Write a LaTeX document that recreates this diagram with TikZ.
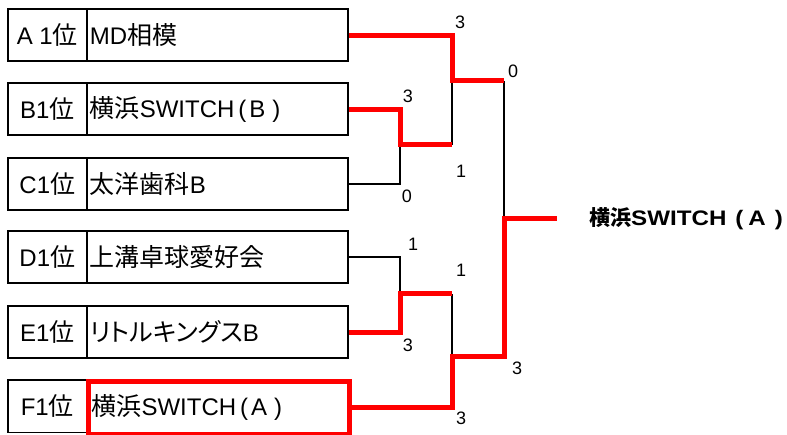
\documentclass[tikz,border=0pt]{standalone}
\usepackage{fontspec}
\newfontfamily\jp{Noto Sans CJK JP}
\newfontfamily\jpp[RawFeature=+palt]{Noto Sans CJK JP}
\newfontfamily\lab{Liberation Sans}
\newfontfamily\latw[FakeStretch=1.15]{Liberation Sans}
\newcommand\lt[1]{{\lab\fontsize{24}{25}\selectfont #1}}
\newcommand\ltw[1]{{\latw\bfseries\fontsize{21}{22}\selectfont #1}}
\begin{document}
\begin{tikzpicture}[x=1pt,y=-1pt,
  cell/.style={draw=black, line width=1.6pt, minimum height=52.5pt, inner sep=0pt, anchor=north west,
    font=\jp\fontsize{25}{26}\selectfont},
  rank/.style={cell, minimum width=79pt, align=center},
  team/.style={cell, minimum width=261pt, text width=255pt, align=left},
  wire/.style={line width=1.3pt, black},
  win/.style={line width=5pt, red},
  score/.style={font=\lab\fontsize{18}{18}\selectfont, inner sep=0pt}]
\useasboundingbox (0,0) rectangle (787,435);
% boxes
\node[rank] (rA) at (7,8)   {\lt{A 1}位};
\node[team] (nA) at (86,8)  {\lt{MD}相模};
\node[rank] (rB) at (7,82)  {\lt{B1}位};
\node[team] (nB) at (86,82) {横浜\lt{SWITCH\kern4pt(\kern3pt B\kern7pt)}};
\node[rank] (rC) at (7,157) {\lt{C1}位};
\node[team] (nC) at (86,157) {太洋歯科\lt{B}};
\node[rank] (rD) at (7,230) {\lt{D1}位};
\node[team] (nD) at (86,230) {上溝卓球愛好会};
\node[rank] (rE) at (7,305) {\lt{E1}位};
\node[team] (nE) at (86,305) {{\jpp リトルキングス}\lt{B}};
\node[rank] (rF) at (7,379) {\lt{F1}位};
\node[team, draw=red, line width=5pt] (nF) at (86,379) {横浜\lt{SWITCH\kern4pt(\kern3pt A\kern7pt)}};
% junction coordinates
\coordinate (j1) at (400,145);
\coordinate (j2) at (400,294);
\coordinate (s1) at (452,81);
\coordinate (s1b) at (452,145);
\coordinate (s2) at (452,294);
\coordinate (s2b) at (452,357);
\coordinate (f1) at (504,81);
\coordinate (f2) at (504,219);
\coordinate (fin) at (557,219);
% black (lost) lines
\draw[wire] (nC.east) -| (j1);
\draw[wire] (nD.east) -| (j2);
\draw[wire] (s1) -- (s1b);
\draw[wire] (s2b) -- (s2);
\draw[wire] (f1) -- (f2);
% red (won) lines
\draw[win] (nA.east) -| (s1) -- (f1);
\draw[win] (nB.east) -| (j1) -- (s1b);
\draw[win] (nE.east) -| (j2) -- (s2);
\draw[win] (nF.east) -| (s2b) -| (f2) -- (fin);
% scores
\node[score] (a3) at (460,22) {3};
\node[score] (b3) at (408,96) {3};
\node[score] (c0) at (407,196) {0};
\node[score] (ab1) at (461,171) {1};
\node[score] (f0) at (513,71) {0};
\node[score] (d1) at (413,244) {1};
\node[score] (e1) at (461,270) {1};
\node[score] (e3) at (408,345) {3};
\node[score] (f3) at (461,418) {3};
\node[score] (fa3) at (517,368) {3};
% champion
\node[anchor=west, inner sep=0pt, font=\jp\bfseries\fontsize{21}{22}\selectfont] (champ) at (589,219) {横浜\ltw{SWITCH\kern9pt(\kern5pt A\kern9pt)}};
\end{tikzpicture}
\end{document}
